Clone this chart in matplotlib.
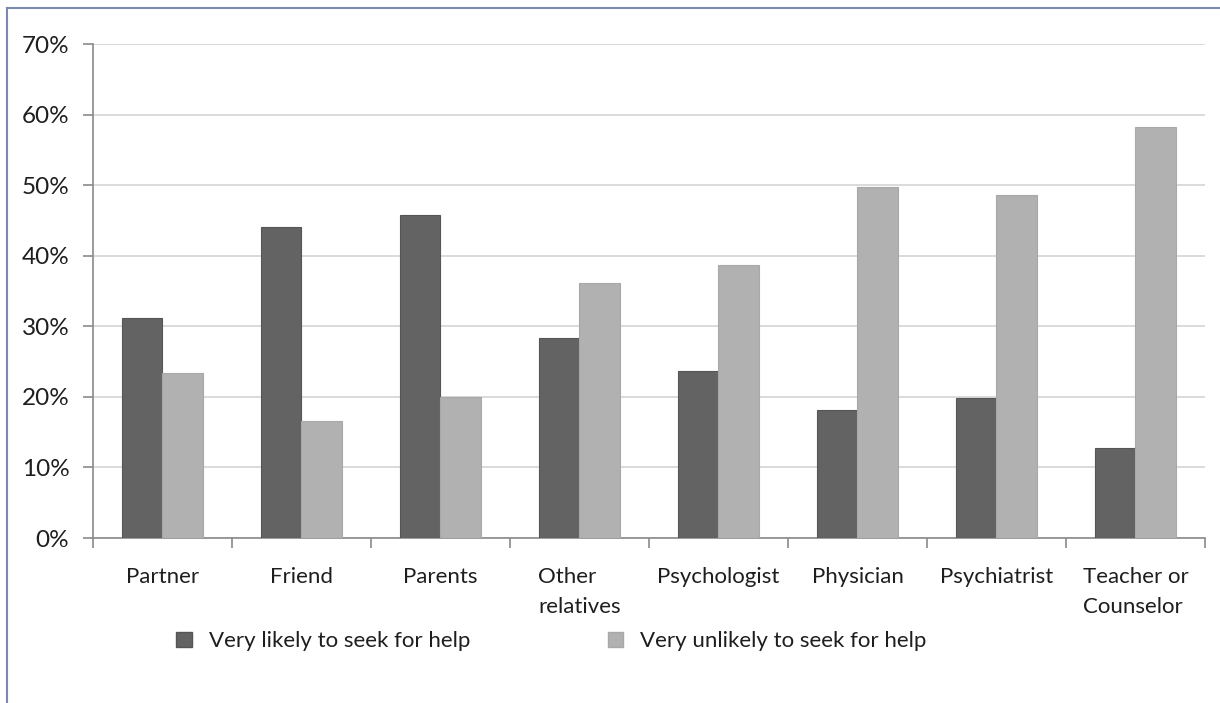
import numpy as np
import matplotlib
matplotlib.use('Agg')
from matplotlib import pyplot as plt
from matplotlib.lines import Line2D
from matplotlib.patches import Patch

plt.rcParams['font.family'] = ['Lato', 'DejaVu Sans']

categories = ['Partner', 'Friend', 'Parents', 'Other\nrelatives', 'Psychologist',
              'Physician', 'Psychiatrist', 'Teacher or\nCounselor']
likely = [31.2, 44.1, 45.7, 28.4, 23.6, 18.2, 19.9, 12.8]
unlikely = [23.4, 16.6, 20.0, 36.2, 38.7, 49.8, 48.6, 58.3]
series_names = ['Very likely to seek for help', 'Very unlikely to seek for help']
y_ticks = [0, 10, 20, 30, 40, 50, 60, 70]

dark = '#636363'
light = '#b1b1b1'
text_color = '#1e1e1e'

fig = plt.figure(figsize=(12.2, 7.03), dpi=100)
ax = fig.add_axes([0.0762, 0.2347, 0.9115, 0.7027])

x = np.arange(len(categories))
w = 0.29
ax.bar(x - w / 2, likely, w, color=dark, edgecolor='#555555', linewidth=0.8, zorder=3)
ax.bar(x + w / 2, unlikely, w, color=light, edgecolor='#a8a8a8', linewidth=0.8, zorder=3)

ax.set_xlim(-0.5, len(categories) - 0.5)
ax.set_ylim(0, 70)
ax.set_yticks(y_ticks)
ax.set_yticklabels([f'{t}%' for t in y_ticks], fontsize=17.5, color=text_color)
ax.yaxis.grid(True, color='#d4d4d4', linewidth=1.2, zorder=0)

# tick marks sit on the category boundaries, labels in the middle
ax.set_xticks(np.arange(len(categories) + 1) - 0.5)
ax.set_xticklabels([])
ax.set_xticks(x, minor=True)
ax.set_xticklabels(categories, minor=True, fontsize=16, color=text_color,
                   multialignment='left', linespacing=1.6)
ax.tick_params(axis='x', which='minor', length=0, pad=21)
ax.tick_params(axis='x', which='major', length=7, width=1.2, color='#8a8a8a', direction='out')
ax.tick_params(axis='y', length=7, width=1.2, color='#8a8a8a', pad=10)

for side in ['top', 'right']:
    ax.spines[side].set_visible(False)
for side in ['left', 'bottom']:
    ax.spines[side].set_color('#8a8a8a')
    ax.spines[side].set_linewidth(1.2)

handles = [Patch(facecolor=dark, edgecolor='#555555'), Patch(facecolor=light, edgecolor='#a8a8a8')]
fig.legend(handles, series_names, loc='center', bbox_to_anchor=(0.452, 0.088), ncol=2,
           frameon=False, fontsize=16, handlelength=0.7, handleheight=0.7,
           handletextpad=0.75, columnspacing=6.2, labelcolor=text_color)

# border along the top and left edge
fig.add_artist(Line2D([0.0057, 0.0057], [0, 0.9886], color='#7b8bb0', linewidth=1.5,
                      transform=fig.transFigure))
fig.add_artist(Line2D([0.0057, 1.0], [0.9886, 0.9886], color='#7b8bb0', linewidth=1.5,
                      transform=fig.transFigure))

fig.savefig('out.png', dpi=100, facecolor='white')
